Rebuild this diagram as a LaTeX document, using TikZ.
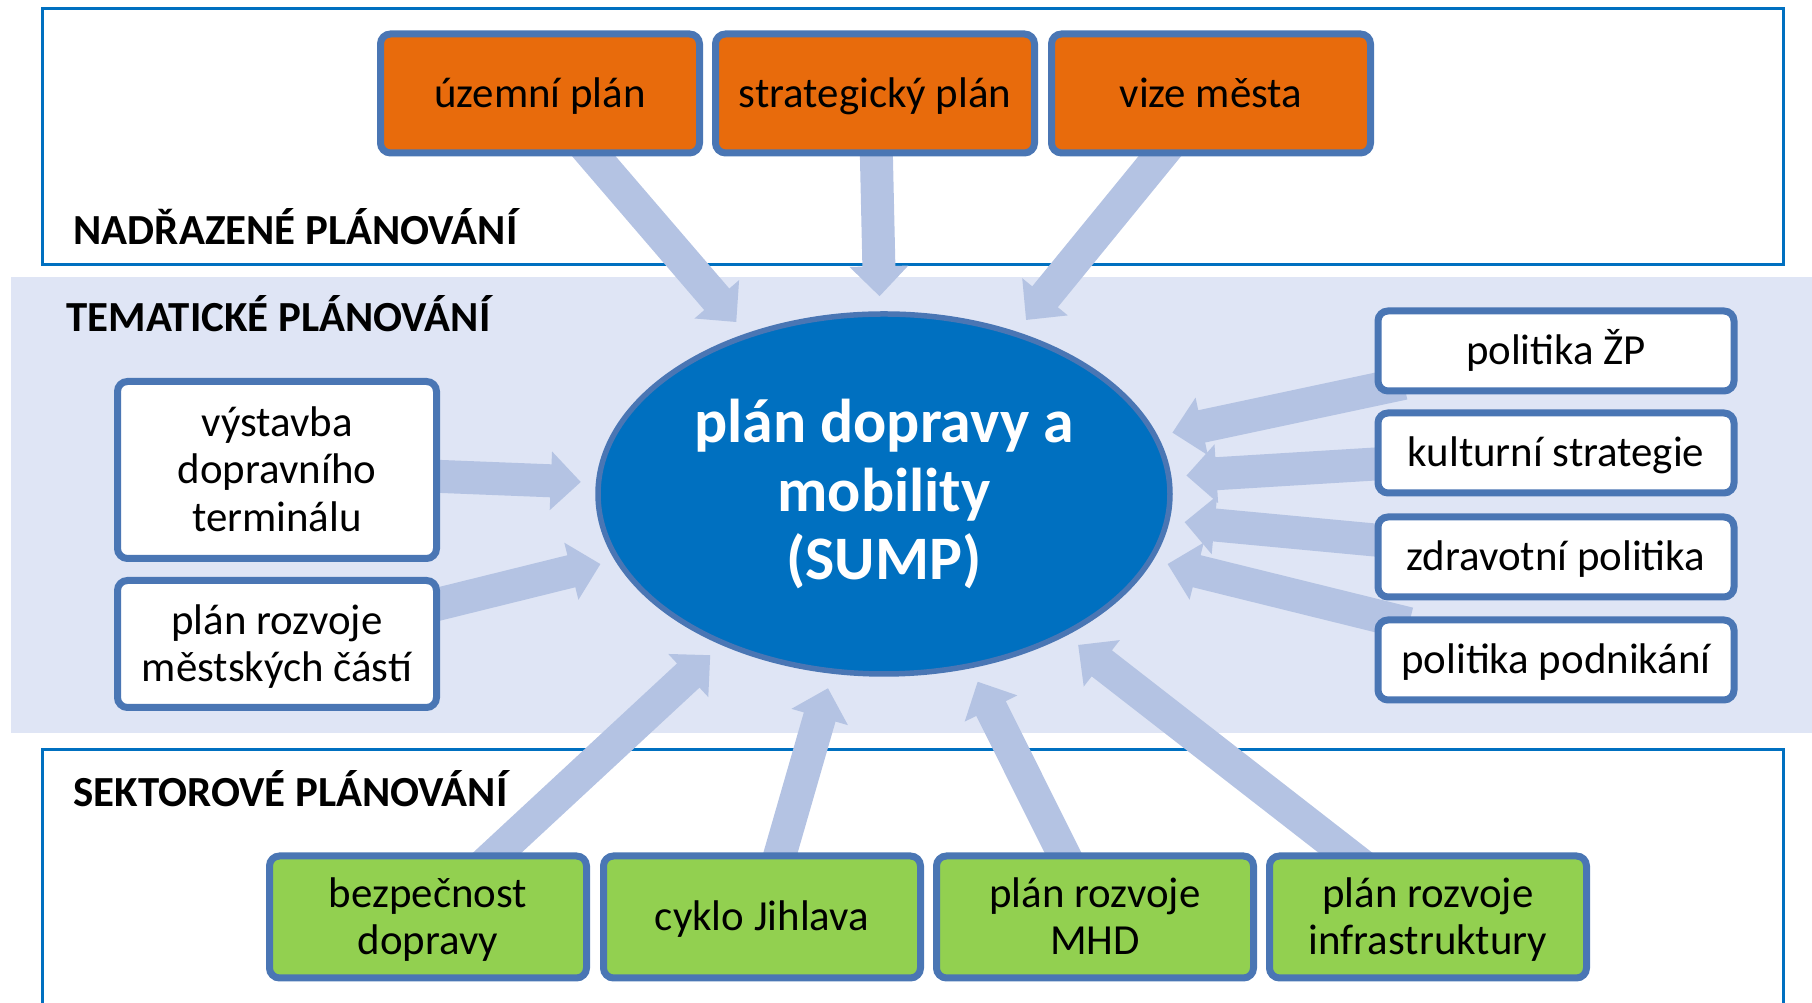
\documentclass[tikz,border=0pt]{standalone}
\usepackage{fontspec}
\setmainfont{Carlito}
\usepackage{xcolor}
\usepackage{tikz}
\usetikzlibrary{arrows.meta,shapes.geometric}
\definecolor{planorange}{HTML}{E86B0C}
\definecolor{plangreen}{HTML}{92D050}
\definecolor{planblue}{HTML}{0070C0}
\definecolor{planedge}{HTML}{4A76B4}
\definecolor{planarrow}{HTML}{B4C3E3}
\definecolor{planband}{HTML}{DFE5F5}
\pgfdeclarelayer{back}
\pgfdeclarelayer{flow}
\pgfsetlayers{back,flow,main}
\newcommand{\boxfont}{\fontsize{12.2}{13.6}\selectfont}
\newcommand{\sumpfont}{\fontsize{17.6}{19.4}\selectfont\bfseries}
\newcommand{\topstrut}{\rule{0pt}{\dimexpr0.7\baselineskip+2.5pt\relax}}

\begin{document}
\begin{tikzpicture}
      \useasboundingbox (0,0) rectangle (18.12,-10.03);

      \begin{pgfonlayer}{back}
          \fill[planband] (0.11,-2.77) rectangle (18.12,-7.33);
          \draw[planblue, line width = 0.03cm] (0.42,-0.09) rectangle (17.83,-2.65);
          \draw[planblue, line width = 0.03cm] (0.42,-10.2) |- (17.83,-7.50) -- (17.83,-10.2);
      \end{pgfonlayer}

      \node[anchor = base west, inner sep = 0] at (0.73,-2.45) {\boxfont\bfseries NADŘAZENÉ PLÁNOVÁNÍ};
      \node[anchor = base west, inner sep = 0] at (0.66,-3.32) {\boxfont\bfseries TEMATICKÉ PLÁNOVÁNÍ};
      \node[anchor = base west, inner sep = 0] at (0.73,-8.07) {\boxfont\bfseries SEKTOROVÉ PLÁNOVÁNÍ};

      \node[ellipse, draw = planedge, line width = 0.055cm, fill = planblue, text = white,
            minimum width = 5.72cm, minimum height = 3.60cm, inner sep = 0,
            align = center, font = \sumpfont] (M) at (8.84,-4.94) {plán dopravy a\\mobility\\(SUMP)};

      \begin{scope}[every node/.style={rectangle, rounded corners = 0.1cm, draw = planedge,
                    line width = 0.07cm, align = center, inner sep = 0, font = \boxfont,
                    execute at begin node = \topstrut, execute at end node = \strut}]
          % nadrazene
          \node[fill = planorange, minimum width = 3.19cm, minimum height = 1.19cm] (T1) at (5.40,-0.935) {územní plán};
          \node[fill = planorange, minimum width = 3.19cm, minimum height = 1.19cm] (T2) at (8.75,-0.935) {strategický plán};
          \node[fill = planorange, minimum width = 3.19cm, minimum height = 1.19cm] (T3) at (12.11,-0.935) {vize města};
          % tematicke
          \node[fill = white, minimum width = 3.19cm, minimum height = 1.77cm] (L1) at (2.77,-4.70) {\topstrut výstavba\\dopravního\\terminálu};
          \node[fill = white, minimum width = 3.19cm, minimum height = 1.27cm] (L2) at (2.77,-6.44) {\topstrut plán rozvoje\\městských částí};
          \node[fill = white, minimum width = 3.56cm, minimum height = 0.80cm] (R1) at (15.56,-3.51) {politika ŽP};
          \node[fill = white, minimum width = 3.56cm, minimum height = 0.80cm] (R2) at (15.56,-4.53) {kulturní strategie};
          \node[fill = white, minimum width = 3.56cm, minimum height = 0.80cm] (R3) at (15.56,-5.57) {zdravotní politika};
          \node[fill = white, minimum width = 3.56cm, minimum height = 0.80cm] (R4) at (15.56,-6.60) {politika podnikání};
          % sektorove
          \node[fill = plangreen, minimum width = 3.17cm, minimum height = 1.22cm] (B1) at (4.28,-9.17) {\topstrut bezpečnost\\dopravy};
          \node[fill = plangreen, minimum width = 3.17cm, minimum height = 1.22cm] (B2) at (7.62,-9.17) {cyklo Jihlava};
          \node[fill = plangreen, minimum width = 3.17cm, minimum height = 1.22cm] (B3) at (10.95,-9.17) {\topstrut plán rozvoje\\MHD};
          \node[fill = plangreen, minimum width = 3.17cm, minimum height = 1.22cm] (B4) at (14.28,-9.17) {\topstrut plán rozvoje\\infrastruktury};
      \end{scope}

      \begin{pgfonlayer}{flow}
      \begin{scope}[>={Triangle[width = 0.57cm, length = 0.30cm]},
                    every edge/.style={draw = planarrow, line width = 0.33cm,
                                       shorten > = 0.15cm, shorten < = -0.3cm}]
          \foreach \n in {T1,T2,T3,L1,L2,R1,R2,R3,R4,B1,B2,B3,B4}
              \path [->] (\n) edge (M);
      \end{scope}
      \end{pgfonlayer}
\end{tikzpicture}
\end{document}
